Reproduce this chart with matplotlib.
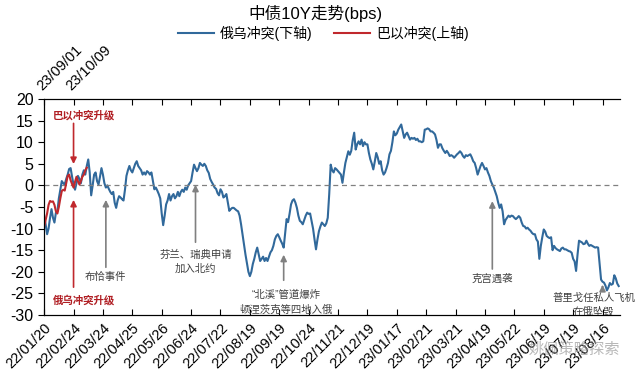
import matplotlib
matplotlib.use("Agg")
import matplotlib.pyplot as plt

plt.rcParams['font.family'] = ['Liberation Sans', 'Noto Sans CJK SC', 'DejaVu Sans']
plt.rcParams['axes.unicode_minus'] = False

# 俄乌冲突 (下轴), 每个交易日一个点, 单位 bps
ru_ua = [
    -7, -9, -11.3, -10, -7.5, -5.5, -7.5, -8.6, -6.3, -6, -3, -1, 1, 0.5, 0.2, 1.5, 2.5, 3.8, 4, 2,
    0.2, -1, 0.5, 2.2, 1.5, 0.5, 2.5, 3.5, 2.5, 4.5, 6, 3, -2.3, 0, 2.5, 3, 1, 0.2, 2, 4,
    2.5, 0.5, -0.5, 0, -0.8, -1.5, -2, -1.5, -4, -5.2, -3.5, -2.5, -2.8, -3.2, -3.5, -1, 2.2, 3.5, 4.5, 3.5,
    3, 4, 5, 5.6, 4.5, 4, 3.5, 2.5, 3, 2.5, 3.3, 3, 2.5, 3, 1, -0.9, -0.5, -1.2, -2, -3,
    -6.5, -9.2, -7, -4.4, -3.5, -2, -3.5, -2.5, -2, -3, -2.5, -1.5, -2.5, -1.5, -1, -1.5, -0.5, -1, 0, 0.5,
    1, 3, 4.8, 4, 3.3, 4, 5.2, 4.8, 4.5, 5, 4.5, 3.5, 2.9, 1.5, 0.8, 0.2, -0.5, -0.8, -1.8, -2.3,
    -0.9, -1.5, -2.8, -2.5, -2, -4, -5.9, -5.5, -5.2, -5.2, -5.5, -5.8, -6, -7, -9, -11.3, -13.5, -16, -18, -20,
    -21, -20, -18.2, -17, -15.5, -14.4, -16, -17.5, -17, -16.5, -17.5, -16.8, -17.5, -16.5, -15.5, -15, -14, -12.5, -11.7, -11.3,
    -12, -12.8, -13.5, -14.4, -11, -7.8, -8.5, -6.6, -4.4, -3.5, -3.2, -4, -5.2, -7, -8.2, -8.5, -9, -8, -7, -6.3,
    -6.6, -6.5, -8.2, -10, -12.5, -14.8, -12.5, -10.6, -9.5, -8.6, -9, -9.4, -8.8, -7.5, -2, 4.8, 3.5, 3, 4, 3.7,
    3.3, 2.9, 2.5, 0.6, 3, 5.2, 6.5, 7.9, 7.1, 8, 10.5, 12.2, 8.3, 9.5, 10.2, 9.5, 10.6, 9.1, 10, 9.5,
    9.5, 7.5, 6, 5, 3.7, 5.5, 7.5, 6.5, 5, 5.6, 3.5, 2.5, 3, 4, 5.2, 7.2, 8, 10, 12.5, 11.6,
    12, 12.9, 13.5, 14.1, 12.5, 11, 11.8, 12.2, 11.4, 10.6, 11, 10.8, 11, 10.5, 10.8, 10.2, 10.2, 10, 10.2, 12.9,
    13, 13.2, 13, 12.5, 12.5, 12.2, 11.8, 10.5, 8.7, 9.5, 9.5, 8.6, 8, 7.5, 8, 7.5, 6.8, 7, 6.8, 6.4,
    6.8, 7.2, 7.5, 7.9, 7.5, 6.8, 6.4, 7, 6.8, 7, 7.2, 6.5, 5.6, 5.2, 4, 2.5, 3.5, 4.5, 5.2, 4.5,
    3.7, 4, 3, 2.2, 1, 0.2, -0.5, -1.5, -2.5, -4, -5.2, -4.4, -6, -9, -8, -7.5, -7, -7.3, -7, -7.1,
    -7.5, -7.8, -7.5, -7.1, -7.5, -8.6, -9.4, -9.5, -10, -9.8, -10.2, -10.5, -11, -11.3, -11.3, -12.5, -13, -17, -14, -12,
    -10.2, -10.7, -11.7, -12, -12.2, -12, -15, -14, -14.5, -14.8, -15, -15.2, -14.6, -14.4, -14.8, -14.8, -15, -15.2, -15.3, -15.6,
    -17, -17.6, -19.8, -16, -12.8, -13, -13.2, -13.6, -13.5, -12.8, -13.5, -14, -13.8, -14, -14.2, -14.4, -14.3, -14.4, -18, -21.8,
    -22.3, -22.5, -23.2, -24.3, -23.6, -22.6, -23, -22.8, -20.8, -21.5, -22.7, -23.3,
]

# 巴以冲突 (上轴)
il_pa = [
    -9.5, -8, -6.5, -4.5, -3.6, -3.8, -3.7, -4.5, -6, -6.5, -5, -3, -1.3, -1, -1.2, 0.5, 2.2, 2.5, 1.2, 0.3,
    -0.5, 0.8, 2, 1, 0.2, 1, 2, 2.5, 3.5, 4.1,
]

bottom_labels = ['22/01/20', '22/02/24', '22/03/24', '22/04/25', '22/05/26', '22/06/24', '22/07/22',
                 '22/08/19', '22/09/19', '22/10/24', '22/11/21', '22/12/19', '23/01/17', '23/02/21',
                 '23/03/21', '23/04/19', '23/05/22', '23/06/19', '23/07/19', '23/08/16']
top_labels = ['23/09/01', '23/10/09'] + [''] * 18

blue = '#31699B'
red = '#C0282D'
dark_red = '#B01E23'
grey = '#808080'

fig = plt.figure(figsize=(6.4, 3.75), dpi=100)
ax = fig.add_axes([0.069, 0.16, 0.9, 0.576])

ax.plot(range(len(ru_ua)), ru_ua, color=blue, lw=1.5, label='俄乌冲突(下轴)')
ax.axhline(0, color=grey, lw=0.9, ls=(0, (4, 3)))
ax.set_xlim(0, 392)
ax.set_ylim(-30, 20)
ax.set_yticks(range(-30, 21, 5))
ax.set_xticks(range(0, 400, 20))
ax.set_xticklabels(bottom_labels, rotation=45, ha='right', rotation_mode='anchor', fontsize=10.5)
ax.tick_params(axis='x', direction='in', length=4, pad=4)
ax.tick_params(axis='y', direction='out', length=4, labelsize=11.5)
ax.spines['right'].set_visible(False)

ax2 = ax.twiny()
ax2.plot(range(len(il_pa)), il_pa, color=red, lw=1.5, label='巴以冲突(上轴)')
ax2.set_xlim(0, 392)
ax2.set_xticks(range(0, 400, 20))
ax2.set_xticklabels(top_labels, rotation=45, ha='left', rotation_mode='anchor', fontsize=10.5)
ax2.tick_params(axis='x', direction='in', length=4, pad=4)
ax2.spines['right'].set_visible(False)

fig.text(0.493, 0.965, '中债10Y走势(bps)', ha='center', va='center', fontsize=12)
h1, l1 = ax.get_legend_handles_labels()
h2, l2 = ax2.get_legend_handles_labels()
fig.legend(h1 + h2, l1 + l2, ncol=2, loc='center', bbox_to_anchor=(0.505, 0.912),
           frameon=False, fontsize=10, handlelength=2.6, handletextpad=0.4, columnspacing=1.6)

# 事件标注
arrow_grey = dict(arrowstyle='-|>', color=grey, lw=1.2, mutation_scale=9)
arrow_red = dict(arrowstyle='-|>', color=red, lw=1.2, mutation_scale=9)
note = dict(ha='center', va='center', fontsize=7.5, color='#404040', linespacing=1.5)

ax.annotate('', xy=(20, 4.3), xytext=(20, 15), arrowprops=arrow_red)
ax.annotate('', xy=(20, -2.7), xytext=(20, -24.2), arrowprops=arrow_red)
ax.text(27, 16.3, '巴以冲突升级', ha='center', va='center', fontsize=7.5, color=dark_red, fontweight='bold')
ax.text(27, -26.5, '俄乌冲突升级', ha='center', va='center', fontsize=7.5, color=dark_red, fontweight='bold')

ax.annotate('', xy=(42, -2.7), xytext=(42, -19.6), arrowprops=arrow_grey)
ax.text(42, -21.2, '布恰事件', **note)
ax.annotate('', xy=(103, 0.8), xytext=(103, -13.8), arrowprops=arrow_grey)
ax.text(103, -17.6, '芬兰、瑞典申请\n加入北约', **note)
ax.annotate('', xy=(163, -15.4), xytext=(163, -22.6), arrowprops=arrow_grey)
ax.text(165, -27, '“北溪”管道爆炸\n顿涅茨克等四地入俄', **note)
ax.annotate('', xy=(305, -3), xytext=(305, -20), arrowprops=arrow_grey)
ax.text(305, -21.7, '克宫遇袭', **note)
ax.annotate('', xy=(380, -22.4), xytext=(380, -24.3), arrowprops=arrow_grey)
ax.text(374, -27.7, '普里戈任私人飞机\n在俄坠毁', **note)

# 水印
fig.text(0.897, 0.068, '姚佩策略探索', ha='center', va='center', fontsize=11, color='#9a9a9a', alpha=0.7)

fig.savefig('out.png', dpi=100)
